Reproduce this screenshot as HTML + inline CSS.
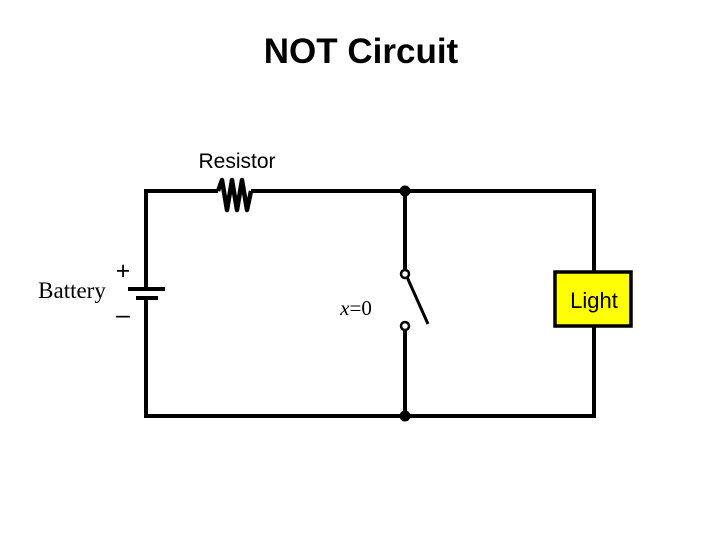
<!DOCTYPE html>
<html><head><style>
html,body{margin:0;padding:0;background:#fff;}
svg{display:block;}
</style></head><body>
<svg width="720" height="540" viewBox="0 0 720 540" xmlns="http://www.w3.org/2000/svg">
<text x="361" y="63" font-family="Liberation Sans, sans-serif" font-weight="bold" font-size="35" text-anchor="middle">NOT Circuit</text>
<text x="237" y="168" font-family="Liberation Sans, sans-serif" font-size="21" text-anchor="middle">Resistor</text>
<g fill="none" stroke="#000" stroke-width="4" stroke-linejoin="miter">
<polyline points="146,289 146,191 218,191" />
<polyline points="218,191 222,180 227,210 232,180 237,210 242,180 247,210 251,191" stroke-width="4.5" stroke-linejoin="round"/>
<polyline points="251,191 405,191 594,191 594,271"/>
<polyline points="594,326 594,416 146,416 146,298"/>
<line x1="405" y1="191" x2="405" y2="269"/>
<line x1="405" y1="331" x2="405" y2="416"/>
<line x1="128" y1="289" x2="165" y2="289"/>
<line x1="136" y1="298" x2="158" y2="298"/>
<line x1="407" y1="277" x2="428" y2="324" stroke-width="3"/>
</g>
<circle cx="405" cy="191" r="5.5" fill="#000"/>
<circle cx="405" cy="416" r="5.5" fill="#000"/>
<circle cx="405" cy="274" r="4" fill="#fff" stroke="#000" stroke-width="2.5"/>
<circle cx="405" cy="326" r="4" fill="#fff" stroke="#000" stroke-width="2.5"/>
<rect x="555" y="272" width="76" height="54" fill="#ffff00" stroke="#000" stroke-width="3.5"/>
<text x="594" y="308" font-family="Liberation Sans, sans-serif" font-size="22" text-anchor="middle">Light</text>
<text x="72" y="298" font-family="Liberation Serif, serif" font-size="23" text-anchor="middle">Battery</text>
<text x="123" y="279" font-family="Liberation Sans, sans-serif" font-size="25" text-anchor="middle">+</text>
<text x="123" y="323" font-family="Liberation Sans, sans-serif" font-size="25" text-anchor="middle">–</text>
<text x="356" y="315" font-family="Liberation Serif, serif" font-size="21" text-anchor="middle"><tspan font-style="italic">x</tspan>=0</text>
</svg>
</body></html>
